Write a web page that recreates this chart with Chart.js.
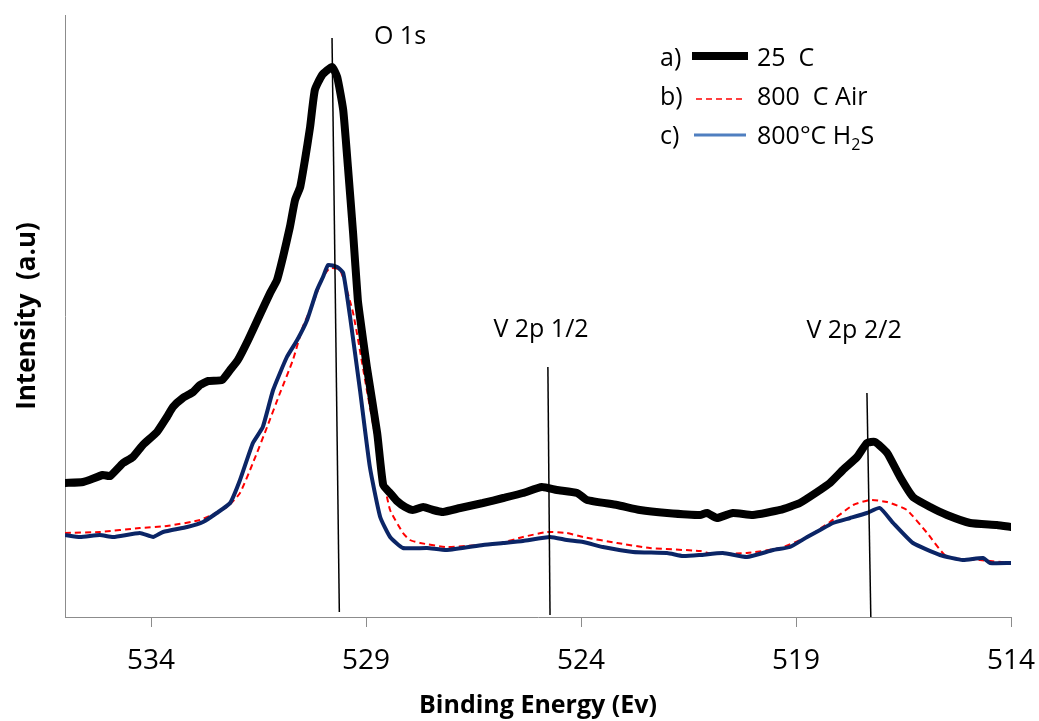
<!DOCTYPE html>
<html lang="en">
<head>
<meta charset="UTF-8">
<title>XPS spectra</title>
<script src="https://cdn.jsdelivr.net/npm/chart.js@4.4.0/dist/chart.umd.min.js"></script>
<style>
  html, body { margin: 0; padding: 0; background: #fff; }
  canvas { display: block; }
</style>
</head>
<body>
<canvas id="xps" width="1039" height="721"></canvas>
<script>
// binding energy (eV) and intensity (a.u.) for each sample
const energy25 = [536.00, 535.58, 535.12, 534.95, 534.65, 534.42, 534.19, 533.86, 533.63, 533.49, 533.26, 533.02, 532.86, 532.67, 532.35, 532.16, 531.98, 531.74, 531.47, 531.23, 531.07, 530.93, 530.77, 530.65, 530.53, 530.42, 530.30, 530.19, 530.02, 529.79, 529.67, 529.53, 529.42, 529.30, 529.19, 529.14, 528.98, 528.74, 528.60, 528.44, 528.28, 528.09, 527.91, 527.67, 527.44, 527.21, 526.81, 526.28, 525.81, 525.35, 524.91, 524.56, 524.09, 523.86, 523.16, 522.63, 522.00, 521.23, 521.07, 520.84, 520.47, 520.00, 519.37, 518.91, 518.51, 518.21, 517.91, 517.58, 517.35, 517.16, 516.88, 516.58, 516.28, 515.88, 515.49, 514.95, 514.33, 514.00];
const intensity25 = [134, 135, 142, 141, 154, 160, 172, 185, 200, 210, 219, 225, 232, 236, 237, 247, 257, 277, 302, 324, 337, 360, 390, 417, 430, 457, 490, 527, 542, 550, 540, 507, 450, 384, 317, 300, 250, 184, 132, 124, 116, 110, 107, 110, 107, 105, 109, 114, 119, 124, 130, 127, 124, 117, 112, 107, 104, 102, 104, 99, 104, 102, 107, 114, 125, 134, 147, 160, 174, 175, 164, 140, 120, 110, 102, 94, 92, 90];

const energyAir = [536.00, 535.19, 534.26, 533.63, 532.86, 532.23, 531.93, 531.63, 531.30, 531.00, 530.70, 530.47, 530.23, 530.00, 529.84, 529.60, 529.30, 528.98, 528.67, 528.44, 528.14, 527.98, 527.74, 527.12, 525.88, 525.35, 524.79, 524.33, 523.95, 523.16, 522.40, 521.23, 520.93, 520.14, 519.37, 518.74, 518.21, 517.67, 517.28, 516.88, 516.42, 515.95, 515.49, 514.72, 514.00];
const intensityAir = [84, 85, 89, 91, 97, 110, 124, 154, 190, 224, 257, 290, 314, 340, 349, 347, 304, 227, 154, 107, 84, 77, 74, 70, 74, 80, 85, 84, 80, 74, 69, 66, 63, 64, 69, 80, 95, 112, 117, 115, 107, 84, 60, 57, 54];

const energyH2S = [536.00, 535.65, 535.19, 534.88, 534.26, 533.95, 533.72, 533.16, 532.79, 532.47, 532.16, 531.93, 531.63, 531.40, 531.16, 530.84, 530.60, 530.37, 530.14, 530.00, 529.88, 529.67, 529.53, 529.37, 529.14, 528.91, 528.67, 528.44, 528.14, 527.58, 527.12, 526.28, 525.81, 525.35, 524.72, 524.33, 523.95, 523.49, 522.79, 522.00, 521.63, 521.23, 520.70, 520.14, 519.53, 519.14, 518.74, 518.44, 518.14, 517.74, 517.35, 517.05, 516.74, 516.28, 515.65, 515.12, 514.65, 514.49, 514.00];
const intensityH2S = [82, 80, 82, 80, 84, 80, 85, 90, 95, 104, 114, 137, 174, 190, 227, 260, 277, 297, 327, 340, 352, 350, 344, 300, 227, 150, 100, 80, 69, 69, 67, 72, 74, 76, 80, 77, 75, 70, 65, 64, 61, 62, 64, 60, 67, 70, 80, 87, 94, 99, 104, 109, 94, 74, 62, 57, 59, 54, 54];

// peak reference lines and their labels
const peakNames = ['O 1s', 'V 2p 1/2', 'V 2p 2/2'];
const peakTopEv = [529.79, 524.77, 517.35];
const peakTopY = [579, 250, 224];
const peakBottomEv = [529.62, 524.72, 517.26];
const peakBottomY = [5, 2, 0];
const peakLabelEv = [528.21, 524.93, 517.65];
const peakLabelY = [580, 287, 286];

const xTicks = [534, 529, 524, 519, 514];

const legendRows = [
  { tag: 'a)', text: '25  C' },
  { tag: 'b)', text: '800  C Air' },
  { tag: 'c)', text: '800°C H', sub: '2', tail: 'S' }
];

const toPoints = (xs, ys) => xs.map((x, i) => ({ x: x, y: ys[i] }));

const peakSets = peakNames.map((name, i) => ({
  label: name,
  data: [{ x: peakTopEv[i], y: peakTopY[i] }, { x: peakBottomEv[i], y: peakBottomY[i] }],
  borderColor: '#000',
  borderWidth: 1.5,
  pointRadius: 0,
  tension: 0
}));

const AXIS_GRAY = '#8c8c8c';
const FONT = '"Open Sans", "Liberation Sans", sans-serif';

// text labels over the peaks plus the hand-laid legend
const overlay = {
  id: 'overlay',
  afterDraw(chart) {
    const ctx = chart.ctx;
    const xs = chart.scales.x, ys = chart.scales.y;
    ctx.save();
    ctx.fillStyle = '#000';
    ctx.textAlign = 'center';
    ctx.textBaseline = 'middle';
    ctx.font = '25px ' + FONT;
    peakNames.forEach((name, i) => {
      ctx.fillText(name, xs.getPixelForValue(peakLabelEv[i]), ys.getPixelForValue(peakLabelY[i]));
    });

    // legend
    const rowY = [59, 98, 137];
    ctx.font = '25px ' + FONT;
    ctx.textAlign = 'left';
    legendRows.forEach((row, i) => {
      const y = rowY[i];
      ctx.fillStyle = '#000';
      ctx.fillText(row.tag, 660, y);
      let x = 757;
      ctx.fillText(row.text, x, y);
      if (row.sub) {
        x += ctx.measureText(row.text).width;
        ctx.font = '16px ' + FONT;
        ctx.fillText(row.sub, x, y + 8);
        x += ctx.measureText(row.sub).width;
        ctx.font = '25px ' + FONT;
        ctx.fillText(row.tail, x, y);
      }
    });
    ctx.lineCap = 'butt';
    // a) thick black
    ctx.strokeStyle = '#000';
    ctx.lineWidth = 8;
    ctx.beginPath(); ctx.moveTo(692, 56); ctx.lineTo(748, 56); ctx.stroke();
    // b) red dashed
    ctx.strokeStyle = '#ff0000';
    ctx.lineWidth = 1.5;
    ctx.setLineDash([6, 4]);
    ctx.beginPath(); ctx.moveTo(696, 99); ctx.lineTo(744, 99); ctx.stroke();
    ctx.setLineDash([]);
    // c) blue
    ctx.strokeStyle = '#4f7fc0';
    ctx.lineWidth = 3;
    ctx.beginPath(); ctx.moveTo(694, 135); ctx.lineTo(746, 135); ctx.stroke();
    ctx.restore();
  }
};

new Chart(document.getElementById('xps'), {
  type: 'line',
  data: {
    datasets: [
      ...peakSets,
      {
        label: '25 C',
        data: toPoints(energy25, intensity25),
        borderColor: '#000',
        borderWidth: 8,
        borderJoinStyle: 'round',
        borderCapStyle: 'round',
        pointRadius: 0,
        tension: 0.15
      },
      {
        label: '800°C H2S',
        data: toPoints(energyH2S, intensityH2S),
        borderColor: '#0b2566',
        borderWidth: 4,
        borderJoinStyle: 'round',
        pointRadius: 0,
        tension: 0.15
      },
      {
        label: '800 C Air',
        data: toPoints(energyAir, intensityAir),
        borderColor: '#ff0000',
        borderWidth: 2,
        borderDash: [6, 4],
        pointRadius: 0,
        tension: 0.15
      }
    ]
  },
  options: {
    responsive: false,
    animation: false,
    layout: { padding: { top: 15, right: 28, left: 0, bottom: 0 } },
    plugins: {
      legend: { display: false },
      tooltip: { enabled: false }
    },
    scales: {
      x: {
        type: 'linear',
        reverse: true,
        min: 514,
        max: 536,
        afterBuildTicks: (s) => { s.ticks = xTicks.map(v => ({ value: v })); },
        afterFit: (s) => { s.height = 104; s.paddingLeft = 0; s.paddingRight = 0; },
        grid: { drawOnChartArea: false, drawTicks: true, tickLength: 10, color: AXIS_GRAY },
        border: { color: AXIS_GRAY, width: 1 },
        ticks: { color: '#000', padding: 17, maxRotation: 0, autoSkip: false, font: { family: FONT, size: 28 } },
        title: {
          display: true,
          text: 'Binding Energy (Ev)',
          color: '#000',
          font: { family: FONT, size: 25, weight: 'bold' },
          padding: { top: 0, bottom: 0 }
        }
      },
      y: {
        min: 0,
        max: 602,
        afterFit: (s) => { s.width = 65; },
        grid: { display: false },
        border: { display: true, color: AXIS_GRAY, width: 1 },
        ticks: { display: false },
        title: {
          display: true,
          text: 'Intensity  (a.u)',
          color: '#000',
          font: { family: FONT, size: 26, weight: 'bold' },
          padding: { top: 12, bottom: 0 }
        }
      }
    }
  },
  plugins: [overlay]
});
</script>
</body>
</html>
